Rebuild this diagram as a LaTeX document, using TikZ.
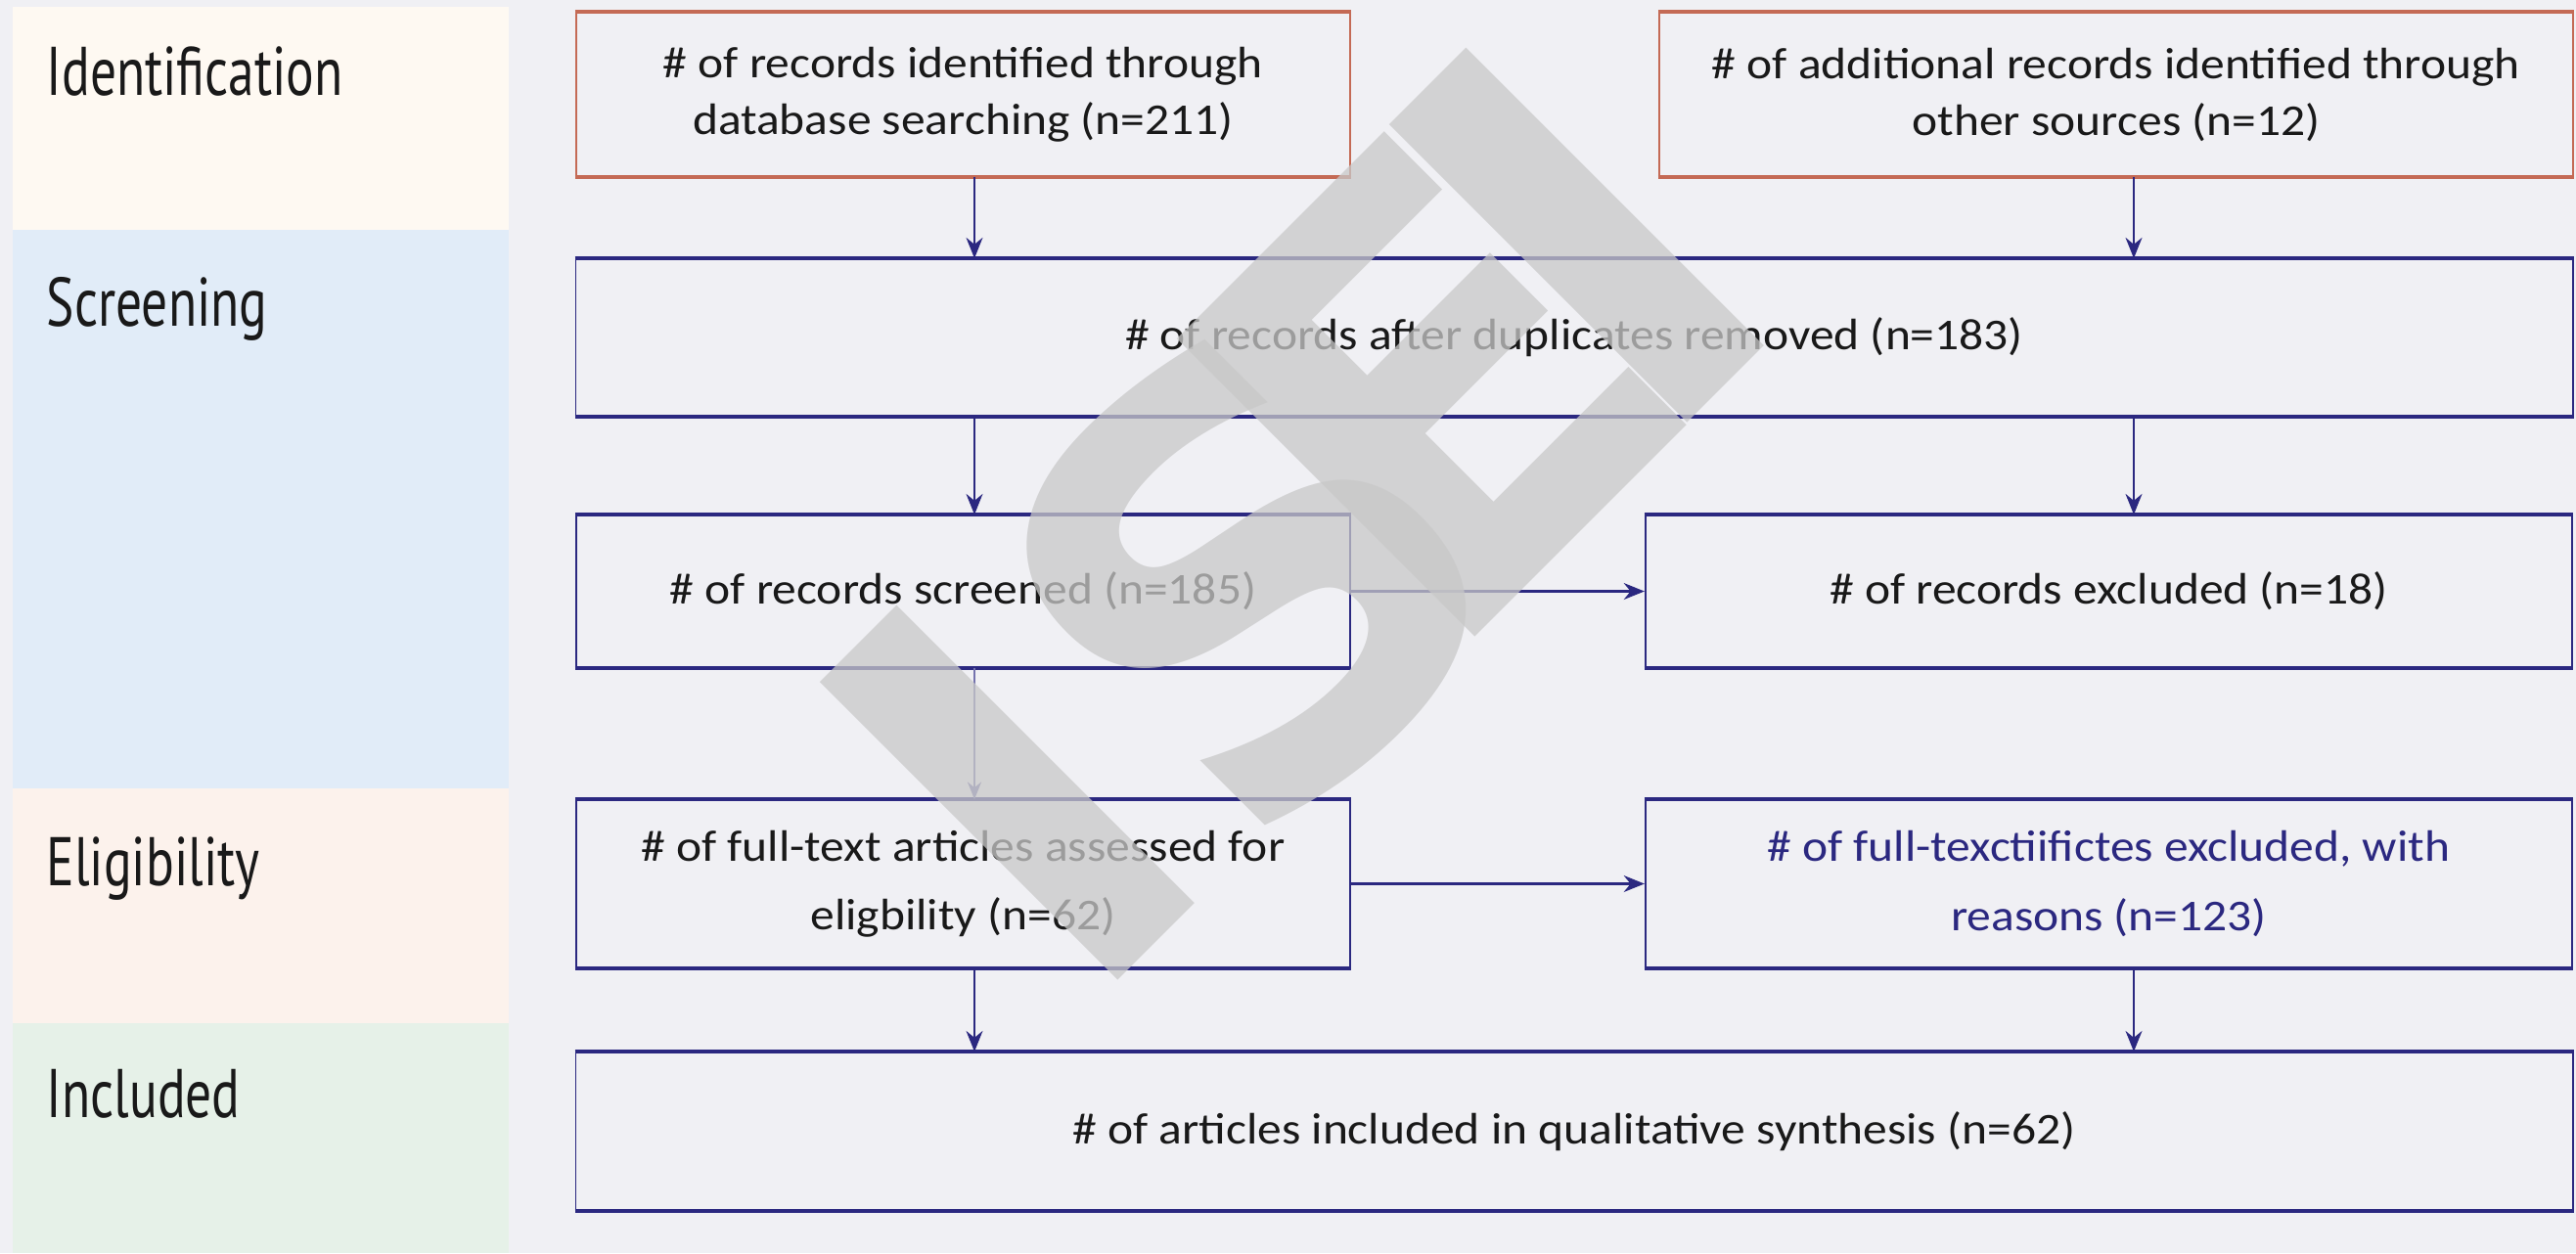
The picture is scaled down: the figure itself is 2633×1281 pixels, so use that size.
\documentclass[tikz,border=0pt]{standalone}
\usepackage{fontspec}
\setmainfont[FakeStretch=1.1]{Carlito}
\newfontfamily\labfont[FakeStretch=0.76]{PT Sans}
\newfontfamily\wmfont{DejaVu Sans}
\usetikzlibrary{arrows.meta}
\definecolor{bgc}{HTML}{F0F0F4}
\definecolor{idc}{HTML}{FEF9F2}
\definecolor{scc}{HTML}{E1ECF8}
\definecolor{elc}{HTML}{FCF2EC}
\definecolor{inc}{HTML}{E6F1E8}
\definecolor{orb}{HTML}{C46A55}
\definecolor{nav}{HTML}{2B2880}
\definecolor{navl}{HTML}{7472AE}
\definecolor{wmc}{HTML}{C8C8C8}
\tikzset{
  lab/.style={anchor=base west, inner sep=0pt, font=\labfont\fontsize{20}{24}\selectfont, text=black!90},
  box/.style={draw=nav, line width=0.5pt, fill=bgc, rectangle, inner sep=0pt, align=center,
    font=\fontsize{12.8}{16.5}\selectfont, text=black!90},
  widebox/.style={box, font=\fontsize{12.8}{20}\selectfont},
  obox/.style={box, draw=orb},
  hline/.style={draw=nav, line width=1.1pt},
  ohline/.style={draw=orb, line width=1.1pt},
  arr/.style={draw=nav, line width=0.7pt, -{Stealth[length=6pt,width=4.8pt]}},
  arrl/.style={draw=navl, line width=0.45pt, -{Stealth[length=5pt,width=4pt]}},
  wm/.style={inner sep=0pt, text=wmc, text opacity=0.75, font=\wmfont\bfseries\fontsize{168}{168}\selectfont, rotate=45}
}
\begin{document}
\begin{tikzpicture}[x=0.01cm,y=-0.01cm]
\useasboundingbox (0,0) rectangle (2633,1281);
\fill[bgc] (0,0) rectangle (2633,1281);
% stage bands
\fill[idc] (13,7) rectangle (520,235);
\fill[scc] (13,235) rectangle (520,806);
\fill[elc] (13,806) rectangle (520,1046);
\fill[inc] (13,1046) rectangle (520,1281);
\node[lab] (lid) at (47,97) {Identification};
\node[lab] (lsc) at (47,333) {Screening};
\node[lab] (lel) at (47,905) {Eligibility};
\node[lab] (lin) at (47,1142) {Included};
% boxes
\node[obox, minimum width=7.91cm, minimum height=1.67cm] (b1) at (984.5,96.5)
  {\# of records identified through\\database searching (n=211)};
\node[obox, minimum width=9.34cm, minimum height=1.67cm] (b2) at (2163,96.5)
  {\# of additional records identified through\\other sources (n=12)};
\node[box, minimum width=20.40cm, minimum height=1.60cm] (b3) at (1609,345)
  {\# of records after duplicates removed (n=183)};
\node[box, minimum width=7.91cm, minimum height=1.55cm] (b4) at (984.5,604.5)
  {\# of records screened (n=185)};
\node[box, minimum width=9.47cm, minimum height=1.55cm] (b5) at (2155.5,604.5)
  {\# of records excluded (n=18)};
\node[widebox, minimum width=7.91cm, minimum height=1.71cm] (b6) at (984.5,903.5)
  {\# of full-text articles assessed for\\eligbility (n=62)};
\node[widebox, minimum width=9.47cm, minimum height=1.71cm, text=nav] (b7) at (2155.5,903.5)
  {\# of full-texctiifictes excluded, with\\reasons (n=123)};
\node[box, minimum width=20.40cm, minimum height=1.61cm] (b8) at (1609,1156.5)
  {\# of articles included in qualitative synthesis (n=62)};
% heavier top and bottom edges
\foreach \n in {b1,b2}
  \draw[ohline] (\n.north west) -- (\n.north east) (\n.south west) -- (\n.south east);
\foreach \n in {b3,b4,b5,b6,b7,b8}
  \draw[hline] (\n.north west) -- (\n.north east) (\n.south west) -- (\n.south east);
% connectors
\coordinate (cl) at (996,0);
\coordinate (cr) at (2181,0);
\draw[arr] (b1.south -| cl) -- (b3.north -| cl);
\draw[arr] (b2.south -| cr) -- (b3.north -| cr);
\draw[arr] (b3.south -| cl) -- (b4.north -| cl);
\draw[arr] (b3.south -| cr) -- (b5.north -| cr);
\draw[arr] (b4.east) -- (b5.west);
\draw[arrl] (b4.south -| cl) -- (b6.north -| cl);
\draw[arr] (b6.east) -- (b7.west);
\draw[arr] (b6.south -| cl) -- (b8.north -| cl);
\draw[arr] (b7.south -| cr) -- (b8.north -| cr);
% watermark
\node[wm] (w1) at (1030,810) {I};
\node[wm] (w2) at (1275,590) {S};
\node[wm] (w3) at (1460,395) {E};
\node[wm] (w4) at (1612,240) {I};
\end{tikzpicture}
\end{document}
